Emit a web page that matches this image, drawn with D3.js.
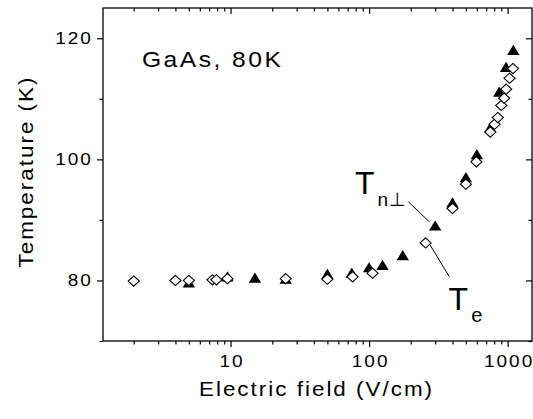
<!DOCTYPE html>
<html>
<head>
<meta charset="utf-8">
<script src="https://cdn.jsdelivr.net/npm/d3@7"></script>
<style>
  body { margin: 0; background: #fff; }
  svg { display: block; font-family: "Liberation Sans", Arial, sans-serif; }
</style>
</head>
<body>
<svg id="chart" width="533" height="419"></svg>
<script>
// T_n-perp (filled triangles): electric field (V/cm), temperature (K)
const tnField = [5, 9.5, 15, 25, 50, 75, 100, 125, 175, 300, 400, 500, 600, 750, 870, 975, 1100];
const tnTemp  = [79.4, 80.4, 80.2, 80.0, 80.8, 81.0, 81.9, 82.3, 83.9, 88.8, 92.6, 96.8, 100.6, 105.0, 110.9, 115.0, 117.8];

// T_e (open diamonds)
const teField = [2, 4, 5, 7.4, 7.9, 9.5, 25, 50, 76, 106, 256, 400, 500, 595, 750, 805, 850, 900, 945, 977, 1033, 1093];
const teTemp  = [79.9, 80.0, 80.0, 80.1, 80.1, 80.3, 80.3, 80.2, 80.6, 81.2, 86.2, 91.9, 95.9, 99.6, 104.5, 105.8, 106.9, 108.9, 110.1, 111.6, 113.4, 115.0];

const xMajor = [10, 100, 1000];
const xMinor = [2, 3, 4, 5, 6, 7, 8, 9, 20, 30, 40, 50, 60, 70, 80, 90, 200, 300, 400, 500, 600, 700, 800, 900];
const yMajor = [80, 100, 120];
const yMinor = [70, 90, 110];

const margin = { top: 8, right: 1, bottom: 78, left: 103 };
const width = 533, height = 419;
const font = '"Liberation Sans", Arial, sans-serif';
const wide = 'scale(1.12,1)';   // the lettering in the figure is a bit wide

const svg = d3.select('#chart');
const x = d3.scaleLog().domain([1.2, 1500]).range([margin.left, width - margin.right]);
const y = d3.scaleLinear().domain([70, 125]).range([height - margin.bottom, margin.top]);

const x0 = x.range()[0], x1 = x.range()[1];
const y0 = y.range()[0], y1 = y.range()[1];

// axes: outward ticks bottom/left, inward on top/right
function styleAxis(g) {
  g.select('.domain').remove();
  g.selectAll('line').attr('stroke', '#000').attr('stroke-width', 1.2);
}
function styleLabels(g) {
  g.selectAll('text').attr('font-size', 17).attr('fill', '#000')
    .attr('font-family', font).attr('letter-spacing', 1.8)
    .attr('transform', wide);
}
svg.append('g').attr('transform', `translate(0,${y0})`)
  .call(d3.axisBottom(x).tickValues(xMajor).tickSize(6).tickPadding(8).tickFormat(d3.format('d')))
  .call(styleAxis).call(styleLabels)
  .selectAll('text').attr('dx', 0.9);
svg.append('g').attr('transform', `translate(0,${y0})`)
  .call(d3.axisBottom(x).tickValues(xMinor).tickSize(3.5).tickFormat(''))
  .call(styleAxis);
svg.append('g').attr('transform', `translate(0,${y1})`)
  .call(d3.axisTop(x).tickValues(xMajor).tickSize(-6).tickFormat(''))
  .call(styleAxis);
svg.append('g').attr('transform', `translate(0,${y1})`)
  .call(d3.axisTop(x).tickValues(xMinor).tickSize(-3.5).tickFormat(''))
  .call(styleAxis);

svg.append('g').attr('transform', `translate(${x0},0)`)
  .call(d3.axisLeft(y).tickValues(yMajor).tickSize(6).tickPadding(3))
  .call(styleAxis).call(styleLabels);
svg.append('g').attr('transform', `translate(${x0},0)`)
  .call(d3.axisLeft(y).tickValues(yMinor).tickSize(3.5).tickFormat(''))
  .call(styleAxis);
svg.append('g').attr('transform', `translate(${x1},0)`)
  .call(d3.axisRight(y).tickValues(yMajor).tickSize(-6).tickFormat(''))
  .call(styleAxis);
svg.append('g').attr('transform', `translate(${x1},0)`)
  .call(d3.axisRight(y).tickValues(yMinor).tickSize(-3.5).tickFormat(''))
  .call(styleAxis);

// frame
svg.append('rect')
  .attr('x', x0).attr('y', y1)
  .attr('width', x1 - x0).attr('height', y0 - y1)
  .attr('fill', 'none').attr('stroke', '#000').attr('stroke-width', 1.3);

// axis titles
svg.append('text')
  .attr('transform', `translate(${(x0 + x1) / 2 - 1},396) ${wide}`)
  .attr('text-anchor', 'middle').attr('font-size', 20).attr('letter-spacing', 1.8)
  .text('Electric field (V/cm)');
svg.append('text')
  .attr('transform', `translate(33,${(y0 + y1) / 2 - 3}) rotate(-90) ${wide}`)
  .attr('text-anchor', 'middle').attr('font-size', 20).attr('letter-spacing', 1.8)
  .text('Temperature (K)');

// sample label
svg.append('text')
  .attr('transform', `translate(142,67) ${wide}`)
  .attr('font-size', 22).attr('letter-spacing', 2.2)
  .text('GaAs, 80K');

// markers: triangles first, diamonds drawn over them
const tri = d3.symbol().type(d3.symbolTriangle).size(60);
const dia = d3.symbol().type(d3.symbolDiamond2).size(74);

svg.append('g').selectAll('path')
  .data(d3.zip(tnField, tnTemp))
  .enter().append('path')
  .attr('d', tri)
  .attr('transform', d => `translate(${x(d[0])},${y(d[1])}) scale(1.05,1)`)
  .attr('fill', '#000');

svg.append('g').selectAll('path')
  .data(d3.zip(teField, teTemp))
  .enter().append('path')
  .attr('d', dia)
  .attr('transform', d => `translate(${x(d[0])},${y(d[1])}) scale(1.03,0.95)`)
  .attr('fill', '#fff').attr('stroke', '#000').attr('stroke-width', 1.1);

// annotation leaders, anchored in data units
const leaders = [
  [[192, 93.0], [272, 89.7]],
  [[275, 85.9], [380, 80.6]]
];
svg.append('g').selectAll('line')
  .data(leaders)
  .enter().append('line')
  .attr('x1', d => x(d[0][0])).attr('y1', d => y(d[0][1]))
  .attr('x2', d => x(d[1][0])).attr('y2', d => y(d[1][1]))
  .attr('stroke', '#000').attr('stroke-width', 1);

// series labels
const tnLabel = svg.append('text')
  .attr('x', x(79)).attr('y', y(94.3))
  .attr('font-size', 32);
tnLabel.append('tspan').text('T');
tnLabel.append('tspan').attr('dx', 3).attr('dy', 12).attr('font-size', 19).attr('letter-spacing', 1).text('n\u22A5');

const teLabel = svg.append('text')
  .attr('x', x(375)).attr('y', y(75.2))
  .attr('font-size', 32);
teLabel.append('tspan').text('T');
teLabel.append('tspan').attr('dx', 3).attr('dy', 12).attr('font-size', 20).text('e');
</script>
</body>
</html>
